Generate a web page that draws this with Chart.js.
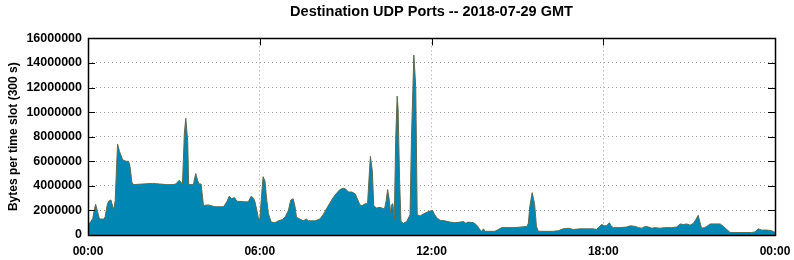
<!DOCTYPE html>
<html><head><meta charset="utf-8">
<script src="https://cdn.jsdelivr.net/npm/chart.js@4/dist/chart.umd.min.js"></script>
<style>html,body{margin:0;padding:0;background:#fff}#wrap{width:794px;height:260px}</style>
</head><body><div id="wrap"><canvas id="c" width="794" height="260"></canvas></div>
<script>
const chartTitle = 'Destination UDP Ports -- 2018-07-29 GMT';
const yAxisTitle = 'Bytes per time slot (300 s)';
const xTickMinutes = [0, 360, 720, 1080, 1440];
const xTickLabels = ['00:00', '06:00', '12:00', '18:00', '00:00'];
const yTickValues = [0, 2000000, 4000000, 6000000, 8000000, 10000000, 12000000, 14000000, 16000000];

// minutes since 00:00 GMT
const minutes = [0,6,10,13,16,20,24,34,36,40,43,48,52,54,57,60,62,66,69,73,80,85,88,92,95,115,135,150,165,178,184,191,195,198,202,205,209,211,221,224,226,230,233,237,242,252,266,284,291,296,301,307,312,329,336,342,347,350,354,357,360,364,367,371,374,378,384,392,399,407,413,420,425,430,434,437,444,451,458,462,476,486,493,500,507,514,521,528,535,540,546,553,560,564,570,575,581,586,589,592,596,599,605,612,619,622,625,628,631,634,636,639,642,645,648,650,653,656,661,668,675,678,683,687,690,696,703,710,717,722,726,731,738,748,759,769,780,787,792,797,808,815,822,825,829,832,853,860,867,895,920,923,926,931,936,940,944,961,975,986,996,1007,1017,1031,1045,1059,1066,1072,1077,1082,1087,1093,1096,1101,1115,1129,1137,1147,1154,1161,1168,1175,1182,1188,1199,1209,1223,1234,1241,1248,1255,1262,1269,1274,1279,1283,1286,1292,1297,1304,1325,1332,1339,1346,1391,1398,1405,1412,1423,1433,1440];
// bytes per 300 s slot
const bytes = [800000,1100000,1350000,2000000,2500000,1900000,1300000,1300000,1500000,2400000,2750000,2850000,2300000,2100000,2800000,5700000,7400000,6800000,6500000,6100000,6000000,6000000,5600000,4300000,4100000,4150000,4200000,4150000,4100000,4100000,4150000,4450000,4300000,4100000,8300000,9500000,7600000,4100000,4100000,4700000,5000000,4400000,4150000,4150000,2400000,2450000,2300000,2300000,2700000,3150000,2950000,3050000,2750000,2700000,2700000,3150000,3000000,2700000,2000000,1400000,1200000,3300000,4750000,4400000,3100000,1750000,1050000,1000000,1150000,1250000,1450000,2000000,2850000,2950000,2300000,1450000,1300000,1150000,1300000,1150000,1150000,1300000,1650000,2150000,2600000,3050000,3400000,3700000,3800000,3750000,3500000,3500000,3350000,3000000,2450000,2400000,2550000,2550000,4600000,6400000,5200000,2350000,2200000,2250000,2150000,2200000,2800000,3700000,3000000,1800000,2450000,2550000,1250000,7900000,11300000,10300000,4600000,1100000,950000,1100000,1650000,7900000,14650000,12000000,1650000,1550000,1700000,1850000,1950000,2000000,1700000,1400000,1200000,1150000,1050000,1000000,1050000,1100000,950000,1050000,1000000,800000,400000,300000,500000,300000,300000,450000,600000,600000,700000,950000,2300000,3450000,2550000,700000,300000,300000,300000,350000,500000,550000,450000,500000,500000,500000,450000,700000,850000,750000,750000,1000000,750000,600000,600000,650000,750000,700000,600000,550000,700000,650000,550000,600000,550000,600000,600000,650000,900000,850000,900000,800000,950000,1250000,1600000,1000000,550000,600000,700000,900000,900000,700000,450000,200000,200000,250000,500000,400000,400000,350000,200000];

const points = minutes.map((m, i) => ({x: m, y: bytes[i]}));

const frameTicks = {
  id: 'frameTicks',
  afterDatasetsDraw(chart) {
    const {ctx, chartArea: a, scales: {x, y}} = chart;
    ctx.save();
    ctx.strokeStyle = '#000';
    ctx.lineWidth = 1;
    ctx.beginPath();
    const L = 7;
    yTickValues.forEach(v => {
      const py = Math.round(y.getPixelForValue(v)) + 0.5;
      ctx.moveTo(a.left, py); ctx.lineTo(a.left + L, py);
      ctx.moveTo(a.right, py); ctx.lineTo(a.right - L, py);
    });
    xTickMinutes.forEach(v => {
      const px = Math.round(x.getPixelForValue(v)) + 0.5;
      ctx.moveTo(px, a.top); ctx.lineTo(px, a.top + L);
    });
    ctx.stroke();
    ctx.lineWidth = 1.5;
    ctx.strokeRect(Math.round(a.left) + 0.5, Math.round(a.top) + 0.5, Math.round(a.right - a.left), Math.round(a.bottom - a.top));
    ctx.restore();
  }
};

new Chart(document.getElementById('c'), {
  type: 'line',
  data: {
    datasets: [{
      data: points,
      fill: 'origin',
      backgroundColor: '#0086b3',
      borderColor: '#5f6a50',
      borderWidth: 1,
      pointRadius: 0,
      tension: 0
    }]
  },
  options: {
    responsive: false,
    animation: false,
    devicePixelRatio: 1,
    layout: {padding: {left: 0, right: 19, top: 0, bottom: 0}},
    plugins: {
      legend: {display: false},
      tooltip: {enabled: false},
      title: {
        display: true,
        text: chartTitle,
        fullSize: false,
        color: '#000',
        font: {family: 'Liberation Sans', size: 14.5, weight: 'bold'},
        padding: {top: 3, bottom: 18}
      }
    },
    scales: {
      x: {
        type: 'linear',
        min: 0, max: 1440,
        afterBuildTicks: s => { s.ticks = xTickMinutes.map(v => ({value: v})); },
        afterFit: s => { s.height = 25; s.paddingLeft = 0; s.paddingRight = 0; },
        border: {display: false, dash: [1, 3]},
        grid: {
          drawTicks: false,
          color: c => (c.tick && (c.tick.value === 0 || c.tick.value === 1440)) ? 'rgba(0,0,0,0)' : '#a0a0a0',
          lineWidth: 1
        },
        ticks: {
          padding: 9,
          maxRotation: 0,
          color: '#000',
          font: {family: 'Liberation Sans', size: 12, weight: 'bold'},
          callback: v => xTickLabels[xTickMinutes.indexOf(v)]
        }
      },
      y: {
        min: 0, max: 16000000,
        afterBuildTicks: s => { s.ticks = yTickValues.map(v => ({value: v})); },
        afterFit: s => { s.width = 88; s.paddingTop = 0; s.paddingBottom = 0; },
        border: {display: false, dash: [1, 3]},
        grid: {
          drawTicks: false,
          color: c => (c.tick && (c.tick.value === 0 || c.tick.value === 16000000)) ? 'rgba(0,0,0,0)' : '#a0a0a0',
          lineWidth: 1
        },
        ticks: {
          padding: 6,
          color: '#000',
          font: {family: 'Liberation Sans', size: 12.5, weight: 'bold'},
          callback: v => String(v)
        },
        title: {
          display: true,
          text: yAxisTitle,
          color: '#000',
          font: {family: 'Liberation Sans', size: 12, weight: 'bold'},
          padding: {top: 6, bottom: 0}
        }
      }
    }
  },
  plugins: [frameTicks]
});
</script>
</body></html>
